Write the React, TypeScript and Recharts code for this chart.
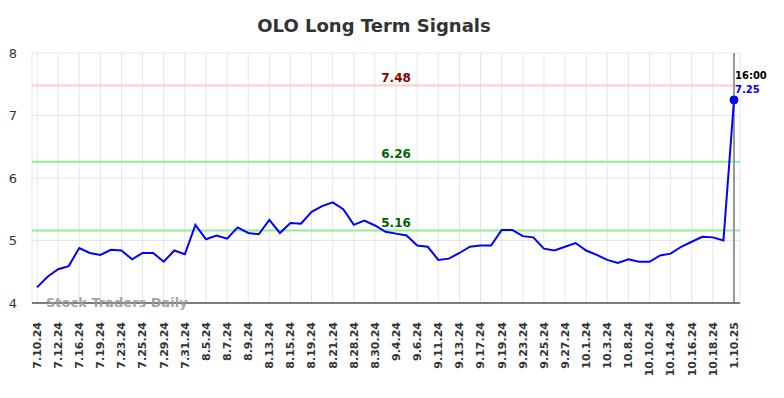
import React from 'react';
import { LineChart, Line, XAxis, YAxis, CartesianGrid, ReferenceLine, ReferenceDot } from 'recharts';

const dates: string[] = [
  '7.10.24', '7.11.24', '7.12.24', '7.15.24', '7.16.24', '7.18.24', '7.19.24', '7.22.24', '7.23.24', '7.24.24',
  '7.25.24', '7.26.24', '7.29.24', '7.30.24', '7.31.24', '8.2.24', '8.5.24', '8.6.24', '8.7.24', '8.8.24',
  '8.9.24', '8.12.24', '8.13.24', '8.14.24', '8.15.24', '8.16.24', '8.19.24', '8.20.24', '8.21.24', '8.23.24',
  '8.28.24', '8.29.24', '8.30.24', '9.3.24', '9.4.24', '9.5.24', '9.6.24', '9.9.24', '9.11.24', '9.12.24',
  '9.13.24', '9.16.24', '9.17.24', '9.18.24', '9.19.24', '9.20.24', '9.23.24', '9.24.24', '9.25.24', '9.26.24',
  '9.27.24', '9.30.24', '10.1.24', '10.2.24', '10.3.24', '10.4.24', '10.8.24', '10.9.24', '10.10.24', '10.11.24',
  '10.14.24', '10.15.24', '10.16.24', '10.17.24', '10.18.24', '10.21.24', '1.10.25',
];

const prices: number[] = [
  4.25, 4.42, 4.54, 4.59, 4.88, 4.80, 4.77, 4.85, 4.84, 4.70,
  4.80, 4.80, 4.66, 4.84, 4.78, 5.25, 5.02, 5.08, 5.03, 5.21,
  5.12, 5.10, 5.33, 5.12, 5.28, 5.27, 5.46, 5.55, 5.61, 5.50,
  5.25, 5.32, 5.24, 5.14, 5.11, 5.08, 4.92, 4.90, 4.69, 4.71,
  4.80, 4.90, 4.92, 4.92, 5.17, 5.17, 5.07, 5.05, 4.87, 4.84,
  4.90, 4.96, 4.84, 4.77, 4.69, 4.64, 4.70, 4.66, 4.66, 4.76,
  4.79, 4.90, 4.98, 5.06, 5.05, 5.00, 7.25,
];

const yTicks: number[] = [4, 5, 6, 7, 8];
const resistanceLevels: number[] = [7.48];
const supportLevels: number[] = [6.26, 5.16];
const levelLabelDate = '9.4.24';
const lastTime = '16:00';
const title = 'OLO Long Term Signals';
const watermark = 'Stock Traders Daily';

const data = dates.map((d, i) => ({ date: d, price: prices[i] }));
const lastIdx = data.length - 1;

const FONT = '"DejaVu Sans", sans-serif';

const XTick = (props: any) => {
  const { x, y, payload } = props;
  return (
    <text
      x={x}
      y={y}
      transform={`rotate(-90, ${x}, ${y})`}
      textAnchor="end"
      dy="0.35em"
      fontFamily={FONT}
      fontSize={11}
      fontWeight="bold"
      fill="#333"
    >
      {payload.value}
    </text>
  );
};

const YTick = (props: any) => {
  const { y, payload } = props;
  return (
    <text x={17} y={y} dy="0.36em" textAnchor="end" fontFamily={FONT} fontSize={13} fill="#333">
      {payload.value}
    </text>
  );
};

const levelLabel = (value: number, color: string) => (props: any) => {
  const vb = props.viewBox || {};
  return (
    <text
      x={vb.x}
      y={vb.y - 4}
      textAnchor="middle"
      fontFamily={FONT}
      fontSize={12}
      fontWeight="bold"
      fill={color}
    >
      {value.toFixed(2)}
    </text>
  );
};

const endLabel = (props: any) => {
  const vb = props.viewBox || {};
  const cx = vb.x + (vb.width || 0) / 2;
  const cy = vb.y + (vb.height || 0) / 2;
  return (
    <g>
      <text x={cx + 1} y={cy - 21} textAnchor="start" fontFamily={FONT} fontSize={10} fontWeight="bold" fill="#000">
        {lastTime}
      </text>
      <text x={cx + 1} y={cy - 7} textAnchor="start" fontFamily={FONT} fontSize={10} fontWeight="bold" fill="blue">
        {prices[lastIdx].toFixed(2)}
      </text>
    </g>
  );
};

export default function App() {
  return (
    <div style={{ position: 'absolute', left: 0, top: 0, width: 784, height: 398, background: '#fff' }}>
      <LineChart
        width={784}
        height={398}
        data={data}
        margin={{ top: 53, right: 44, bottom: 0, left: 0 }}
      >
        <CartesianGrid stroke="#e6e6e6" strokeWidth={1} />
        <XAxis
          dataKey="date"
          type="category"
          interval={1}
          height={95}
          padding={{ left: 5, right: 6 }}
          tick={<XTick />}
          tickLine={false}
          tickMargin={19}
          tickSize={0}
          axisLine={{ stroke: '#555', strokeWidth: 1.5 }}
        />
        <YAxis
          width={32}
          domain={[4, 8]}
          ticks={yTicks}
          type="number"
          axisLine={false}
          tickLine={false}
          tick={<YTick />}
        />
        {resistanceLevels.map((v) => (
          <ReferenceLine key={`r${v}`} y={v} stroke="#ffcccc" strokeWidth={2} />
        ))}
        {supportLevels.map((v) => (
          <ReferenceLine key={`s${v}`} y={v} stroke="#90ee90" strokeWidth={2} />
        ))}
        <ReferenceLine x={dates[lastIdx]} stroke="#999" strokeWidth={2} />
        <Line
          type="linear"
          dataKey="price"
          stroke="blue"
          strokeWidth={2}
          dot={false}
          isAnimationActive={false}
        />
        {resistanceLevels.map((v) => (
          <ReferenceDot key={`rl${v}`} x={levelLabelDate} y={v} r={0} stroke="none" fill="none" label={levelLabel(v, '#8b0000')} />
        ))}
        {supportLevels.map((v) => (
          <ReferenceDot key={`sl${v}`} x={levelLabelDate} y={v} r={0} stroke="none" fill="none" label={levelLabel(v, '#006400')} />
        ))}
        <ReferenceDot x={dates[lastIdx]} y={prices[lastIdx]} r={4} fill="blue" stroke="blue" label={endLabel} />
      </LineChart>
      <svg
        width={784}
        height={398}
        style={{ position: 'absolute', left: 0, top: 0, pointerEvents: 'none' }}
      >
        <text x={374} y={32} textAnchor="middle" fontFamily={FONT} fontSize={18} fontWeight="bold" fill="#333">
          {title}
        </text>
        <text x={46} y={307} textAnchor="start" fontFamily={FONT} fontSize={13} fontWeight="bold" fill="#999" fillOpacity={0.9}>
          {watermark}
        </text>
      </svg>
    </div>
  );
}
